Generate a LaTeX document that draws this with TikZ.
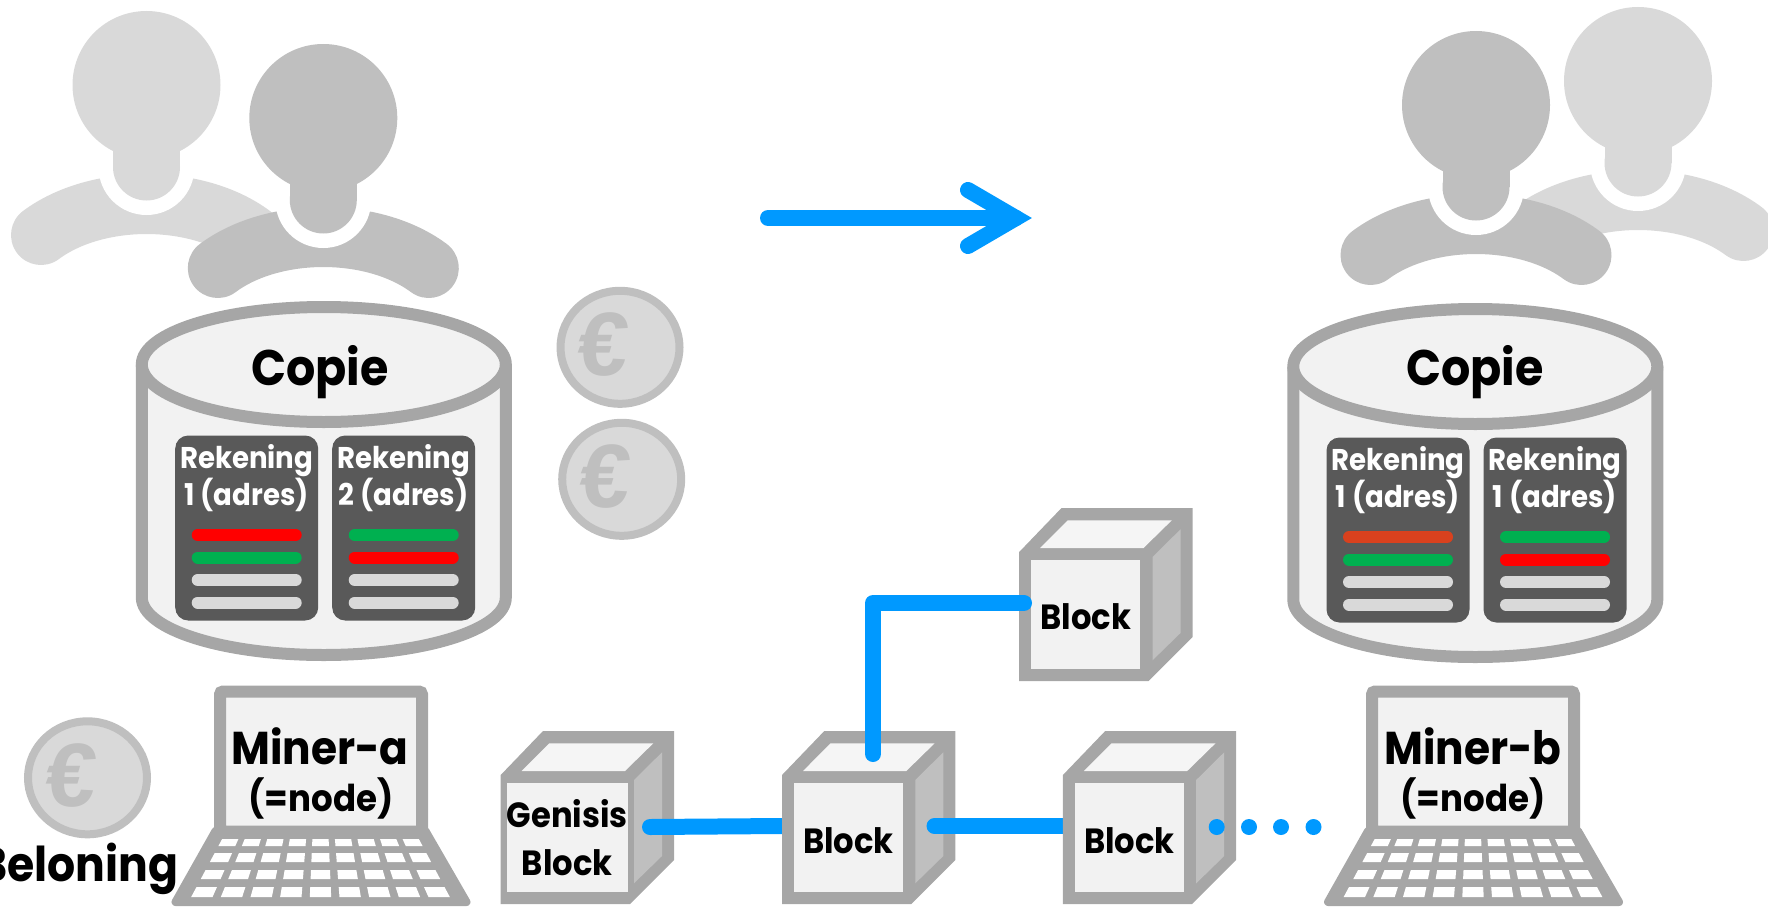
\documentclass[tikz,border=0pt]{standalone}
\usepackage{fontspec}
\setmainfont{Poppins}[BoldFont=* Bold, BoldFeatures={FakeStretch=0.92}]
\newfontfamily\eurofont{Liberation Sans}[BoldFont=* Bold, BoldFeatures={FakeSlant=0.1}]
\usetikzlibrary{positioning}
\usetikzlibrary{shapes.geometric}
\definecolor{linegray}{HTML}{A6A6A6}
\definecolor{facegray}{HTML}{F2F2F2}
\definecolor{topgray}{HTML}{F5F5F5}
\definecolor{sidegray}{HTML}{BFBFBF}
\definecolor{lightp}{HTML}{D9D9D9}
\definecolor{darkp}{HTML}{BFBFBF}
\definecolor{panelgray}{HTML}{595959}
\definecolor{barred}{HTML}{FF0000}
\definecolor{barorange}{HTML}{D9411E}
\definecolor{bargreen}{HTML}{00B050}
\definecolor{chainblue}{HTML}{0099FF}
\tikzset{
  pics/person/.style={code={
    \draw [#1, line width=60pt, line cap=round] (-105.5, 150) .. controls (-50, 108.7) and (50, 108.7) .. (105.5, 150);
    \fill [white] (0, 82) circle (48);
    \fill [#1] (0, 0) circle (74);
    \fill [#1] (-33.5, 0) rectangle (33.5, 82);
    \fill [#1] (0, 82) circle (33.5);
  }},
  pics/store/.style={code={
    \draw [draw=linegray, fill=facegray, line width=12pt] (-182, 0) -- (-182, 233) arc (180:0:182 and 57.5) -- (182, 0);
    \draw [draw=linegray, fill=facegray, line width=12pt] (0, 0) ellipse (182 and 57.5);
  }},
  pics/cubeback/.style={code={
    \fill [linegray] (-66.5, -62.7) -- (-24.2, -106.7) -- (106.8, -106.7) -- (106.8, 22.3) -- (62.8, 66.3) -- (-66.5, 66.3) -- cycle;
    \fill [topgray] (-45.5, -66.7) -- (57.8, -66.7) -- (86.1, -94.4) -- (-17.9, -94.4) -- cycle;
    \fill [sidegray] (66.8, -57.7) -- (94.8, -85.4) -- (94.8, 18.3) -- (66.8, 45.6) -- cycle;
  }},
  pics/keyboard/.style={code={
    \draw [draw=linegray, fill=linegray, line width=8pt, line join=round] (-105, 0) -- (105, 0) -- (146, 71) -- (-145, 71) -- cycle;
    \foreach \yt/\yb in {8/15, 22/31, 39/48, 56/66} {
      \foreach \c in {0, ..., 8} {
        \pgfmathsetmacro{\wt}{203 + 1.103*(\yt - 8)}
        \pgfmathsetmacro{\wb}{203 + 1.103*(\yb - 8)}
        \pgfmathsetmacro{\ul}{(\c + 0.14)/9 - 0.5}
        \pgfmathsetmacro{\ur}{(\c + 0.86)/9 - 0.5}
        \fill [white] (\ul*\wt, \yt) -- (\ur*\wt, \yt) -- (\ur*\wb, \yb) -- (\ul*\wb, \yb) -- cycle;
      }
    }
  }},
  coin/.style={ellipse, draw=darkp, fill=lightp, line width=8pt, minimum width=119pt, minimum height=113pt, inner sep=0pt, outer sep=0pt},
  cube/.style={rectangle, fill=facegray, minimum width=109pt, minimum height=109pt, inner sep=0pt, outer sep=0pt, align=center, font=\fontsize{35}{48}\selectfont\bfseries},
  screen/.style={rectangle, draw=linegray, fill=facegray, line width=12pt, rounded corners=3pt, minimum width=202pt, minimum height=140pt, inner sep=0pt, outer sep=0pt},
  panel/.style={rectangle, fill=panelgray, rounded corners=13pt, minimum width=143pt, minimum height=185pt, inner sep=0pt, outer sep=0pt},
  paneltext/.style={text=white, align=center, inner sep=0pt, font=\fontsize{30}{34.5}\selectfont\bfseries},
  bar/.style={line width=12pt, line cap=round},
  chain/.style={draw=chainblue, line width=16pt, line cap=round},
  dot/.style={circle, fill=chainblue, minimum size=16pt, inner sep=0pt},
  big/.style={inner sep=0pt, font=\fontsize{46}{46}\selectfont\bfseries},
  title/.style={inner sep=0pt, font=\fontsize{50}{50}\selectfont\bfseries},
  small/.style={inner sep=0pt, font=\fontsize{37}{37}\selectfont\bfseries},
  euro/.style={text=darkp, font=\fontsize{90}{90}\selectfont\eurofont\bfseries, inner sep=0pt}
}
\begin{document}
\begin{tikzpicture}[x=1pt, y=-1pt]
\useasboundingbox (0, 0) rectangle (1768, 907);
% users
\pic at (146.5, 85) {person=lightp};
\pic at (323.3, 118) {person=darkp};
\pic at (1638, 81) {person=lightp};
\pic at (1476, 105) {person=darkp};
% arrow
\coordinate (from) at (768, 218);
\coordinate (to) at (1016, 218);
\coordinate (headup) at (968, 190);
\coordinate (headdown) at (968, 246);
\draw [chain] (from) -- (to);
\draw [chain, line join=miter] (headup) -- (to) -- (headdown);
% copies
\pic at (323.8, 364.5) {store};
\pic at (1475.3, 366.5) {store};
\node [title] (copiea) at (320, 372) {Copie};
\node [title] (copieb) at (1475, 372) {Copie};
\foreach \name/\x/\y/\num/\ca/\cb in {a/246.7/528/1/barred/bargreen, b/403.7/528/2/bargreen/barred, c/1398/530/1/barorange/bargreen, d/1555/530/1/bargreen/barred} {
  \node [panel] (acc\name) at (\x, \y) {};
  \node [paneltext, below=9pt of acc\name.north] (txt\name) {Rekening\\\num{} (adres)};
  \draw [bar, \ca] (\x - 49, \y + 7) -- (\x + 49, \y + 7);
  \draw [bar, \cb] (\x - 49, \y + 29.5) -- (\x + 49, \y + 29.5);
  \draw [bar, lightp] (\x - 49, \y + 52) -- (\x + 49, \y + 52);
  \draw [bar, lightp] (\x - 49, \y + 74.5) -- (\x + 49, \y + 74.5);
}
% coins
\node [coin] (coina) at (620, 347.3) {};
\node [coin] (coinb) at (621.7, 479.3) {};
\node [coin] (coinc) at (87.5, 777.8) {};
\node [euro] (euroa) at (601, 345) {€};
\node [euro] (eurob) at (603, 477) {€};
\node [euro] (euroc) at (68.5, 775.5) {€};
\node [big, anchor=east, font=\fontsize{48}{48}\selectfont\bfseries] (reward) at (178.5, 869) {Beloning};
% laptops
\pic at (320.5, 831) {keyboard};
\pic at (1473, 831) {keyboard};
\node [screen] (minera) at (321, 761.5) {};
\node [screen] (minerb) at (1473, 761.5) {};
\node [big] (namea) at (320, 746) {Miner-a};
\node [small] (rolea) at (321, 798) {(=node)};
\node [big] (nameb) at (1473, 746) {Miner-b};
\node [small] (roleb) at (1473, 798) {(=node)};
% chain
\coordinate (posa) at (567.2, 837.7);
\coordinate (posb) at (848.5, 837.7);
\coordinate (posc) at (1129.4, 837.7);
\coordinate (posd) at (1085.7, 614.7);
\pic at (posd) {cubeback};
\node [cube, text height=30pt] (blockd) at (posd) {Block};
\pic at (posa) {cubeback};
\node [cube] (genesis) at (posa) {Genisis\\Block};
\coordinate (outa) at (650, 827);
\draw [chain] (outa) -- (782, 826);
\pic at (posb) {cubeback};
\node [cube, text height=32pt] (blockb) at (posb) {Block};
\coordinate (outb) at (934.5, 826);
\draw [chain] (outb) -- (1063, 826);
\pic at (posc) {cubeback};
\node [cube, text height=32pt] (blockc) at (posc) {Block};
\coordinate (outup) at (873, 754);
\coordinate (indown) at (1024, 603);
\draw [chain, line join=round] (outup) |- (indown);
\foreach \x/\n in {1216.7/1, 1249/2, 1281/3, 1313.5/4} {
  \node [dot] (dot\n) at (\x, 827) {};
}
\end{tikzpicture}
\end{document}
